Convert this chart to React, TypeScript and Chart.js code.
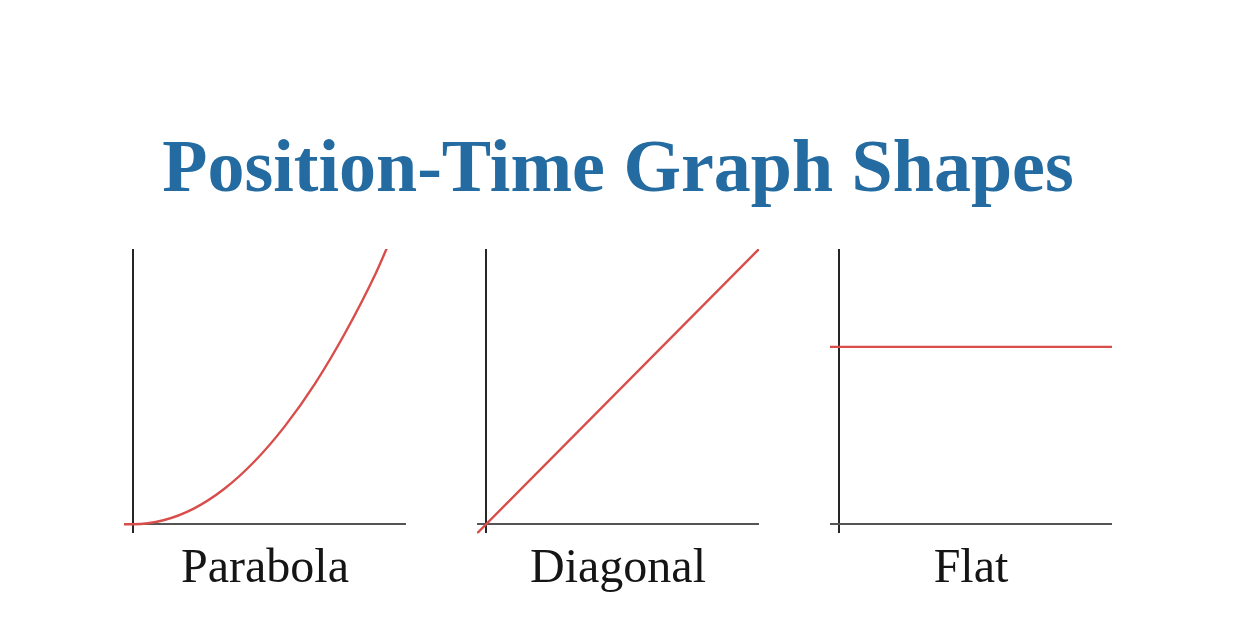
import React, { useEffect, useRef } from "react";
import { Chart, registerables } from "chart.js";

Chart.register(...registerables);

const TITLE = "Position-Time Graph Shapes";
const PANEL_LABELS = ["Parabola", "Diagonal", "Flat"];

const AXIS_MIN = -0.3;
const AXIS_MAX = 9;

const parabolaTime = [-0.3, 0, 1, 2, 3, 4, 5, 6, 7, 8, 8.4];
const parabolaPos = [0, 0, 0.13, 0.51, 1.15, 2.05, 3.2, 4.6, 6.27, 8.2, 9.1];

const diagonalTime = [-0.3, 9];
const diagonalPos = [-0.3, 9];

const flatTime = [-0.3, 9];
const flatPos = [5.8, 5.8];

const SERIES = [
  { t: parabolaTime, p: parabolaPos },
  { t: diagonalTime, p: diagonalPos },
  { t: flatTime, p: flatPos },
];

const RED = "#d84e4b";
const SERIF = "'Liberation Serif', 'Times New Roman', serif";

function Panel({ index, left }: { index: number; left: number }) {
  const ref = useRef<HTMLCanvasElement | null>(null);
  useEffect(() => {
    if (!ref.current) return;
    const s = SERIES[index];
    const chart = new Chart(ref.current, {
      type: "line",
      data: {
        datasets: [
          {
            data: s.t.map((t, i) => ({ x: t, y: s.p[i] })),
            borderColor: RED,
            borderWidth: 2.4,
            pointRadius: 0,
            cubicInterpolationMode: "monotone",
            fill: false,
          },
        ],
      },
      options: {
        responsive: false,
        animation: false,
        events: [],
        layout: { padding: { left: 10, right: 10, top: 10, bottom: 0 } },
        plugins: { legend: { display: false }, tooltip: { enabled: false } },
        scales: {
          x: {
            type: "linear",
            min: AXIS_MIN,
            max: AXIS_MAX,
            afterBuildTicks: (scale: any) => {
              scale.ticks = [{ value: 0 }];
            },
            ticks: { display: false },
            border: { display: false },
            grid: { drawTicks: false, color: "#262626", lineWidth: 2 },
            title: {
              display: true,
              text: PANEL_LABELS[index],
              color: "#151515",
              font: { family: SERIF, size: 48 },
              padding: { top: 7, bottom: 4 },
            },
          },
          y: {
            type: "linear",
            min: AXIS_MIN,
            max: AXIS_MAX,
            afterBuildTicks: (scale: any) => {
              scale.ticks = [{ value: 0 }];
            },
            ticks: { display: false },
            border: { display: false },
            grid: { drawTicks: false, color: "#555555", lineWidth: 2 },
          },
        },
      },
    });
    return () => chart.destroy();
  }, [index]);
  return (
    <canvas
      ref={ref}
      width={302}
      height={363}
      style={{ position: "absolute", left: left - 10, top: 239, width: 302, height: 363 }}
    />
  );
}

export default function App() {
  return (
    <div
      style={{
        position: "absolute",
        left: 0,
        top: 0,
        width: 1236,
        height: 624,
        background: "#ffffff",
        overflow: "hidden",
      }}
    >
      <div
        style={{
          position: "absolute",
          left: 0,
          top: 129,
          width: 1236,
          textAlign: "center",
          fontFamily: SERIF,
          fontWeight: 700,
          fontSize: 74,
          lineHeight: "74px",
          color: "#236ba0",
          whiteSpace: "nowrap",
        }}
      >
        {TITLE}
      </div>
      <Panel index={0} left={124} />
      <Panel index={1} left={477} />
      <Panel index={2} left={830} />
    </div>
  );
}
